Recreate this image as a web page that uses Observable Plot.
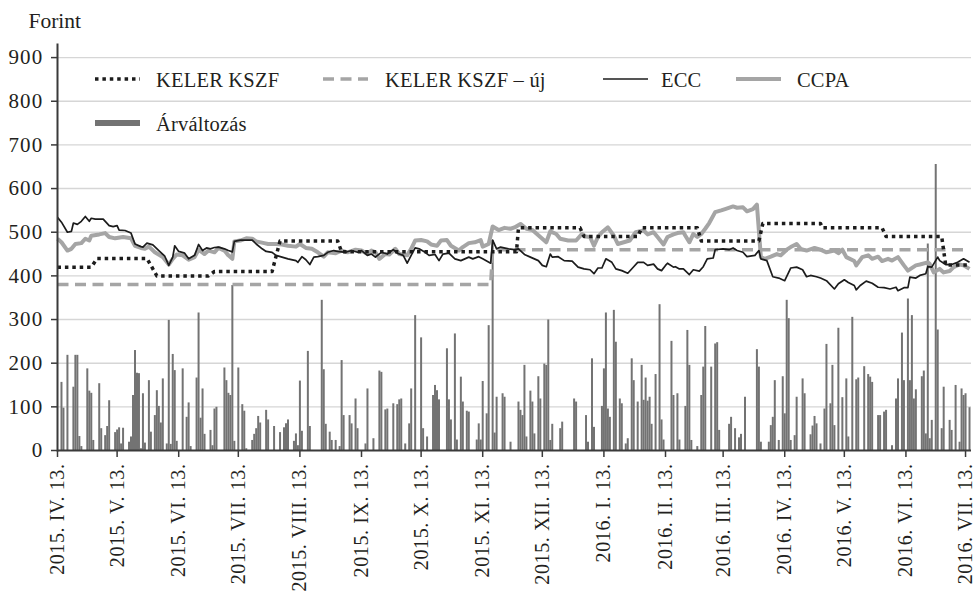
<!DOCTYPE html>
<html>
<head>
<meta charset="utf-8">
<script src="https://cdn.jsdelivr.net/npm/d3@7"></script>
<script src="https://cdn.jsdelivr.net/npm/@observablehq/plot@0.6"></script>
<style>
html, body { margin: 0; padding: 0; background: #fff; font-family: "Liberation Serif", "DejaVu Serif", serif; }
#wrap { position: relative; width: 975px; height: 594px; font-family: "Liberation Serif", "DejaVu Serif", serif; color: #231f20; }
.lgtext { position: absolute; font-family: "Liberation Serif", "DejaVu Serif", serif; font-size: 20.5px; line-height: 20px; white-space: nowrap; letter-spacing: 0.2px; }
.lgsw { position: absolute; }
</style>
</head>
<body>
<div id="wrap"></div>
<script>
// ---------- data (day offsets from startDate, values in Forint) ----------
const startDate = "2015-04-13";
const endDay = 460;
const unitLabel = "Forint";
const seriesNames = ["KELER KSZF", "KELER KSZF – új", "ECC", "CCPA", "Árváltozás"];
const romanMonths = ["I","II","III","IV","V","VI","VII","VIII","IX","X","XI","XII"];
const tickDates = ["2015-04-13","2015-05-13","2015-06-13","2015-07-13","2015-08-13","2015-09-13","2015-10-13","2015-11-13","2015-12-13","2016-01-13","2016-02-13","2016-03-13","2016-04-13","2016-05-13","2016-06-13","2016-07-13"];
const yTicks = [0,100,200,300,400,500,600,700,800,900];

const kelerKszf = [[0,420],[17,420],[20,440],[45,440],[50,400],[76,400],[79,410],[108,410],[112,480],[141,480],[143,455],[231,455],[232,510],[263,510],[265,490],[292,490],[294,510],[322,510],[324,480],[353,480],[355,520],[384,520],[385,510],[415,510],[417,490],[445,490],[447,425],[459,425]];

const kelerKszfUj = [[0,380],[218,380],[219,460],[459,460]];

const ecc = [[0,534],[2,523],[5,500],[7,502],[8,521],[10,518],[12,525],[14,536],[16,525],[17,532],[19,530],[23,530],[26,515],[28,513],[30,515],[31,505],[34,504],[37,498],[39,473],[42,467],[43,466],[45,475],[48,471],[51,458],[54,445],[56,424],[58,443],[59,469],[61,456],[64,452],[66,439],[69,447],[71,472],[73,458],[75,464],
[77,462],[79,465],[81,466],[84,462],[86,458],[88,455],[89,479],[92,482],[98,482],[100,473],[103,462],[105,456],[108,454],[110,447],[113,443],[116,439],[120,435],[121,431],[123,444],[125,437],[127,426],[129,443],[131,444],[134,447],[136,454],[139,458],[141,456],[145,454],[148,458],[151,454],
[153,458],[156,447],[158,450],[160,443],[163,454],[166,450],[169,460],[171,452],[174,447],[176,429],[178,447],[180,464],[182,462],[185,454],[187,447],[190,449],[192,435],[194,450],[197,452],[200,439],[203,435],[207,443],[209,439],[212,444],[214,439],[218,429],[219,482],[221,462],[223,466],[227,462],
[230,460],[232,462],[235,449],[238,443],[242,435],[244,424],[246,421],[248,450],[249,443],[252,444],[255,435],[259,434],[262,420],[265,416],[268,414],[270,405],[272,418],[274,418],[276,439],[279,431],[281,416],[284,412],[287,406],[290,421],[292,431],[295,431],[297,424],[300,427],[302,416],[304,412],[306,424],
[307,429],[310,420],[311,421],[313,416],[315,416],[318,403],[320,414],[323,411],[325,421],[327,439],[330,441],[331,460],[335,462],[338,460],[340,464],[342,458],[345,454],[347,444],[351,447],[353,458],[354,439],[357,435],[360,398],[363,395],[366,389],[369,418],[372,420],[375,414],[377,398],[379,401],[382,398],
[384,395],[387,389],[391,370],[393,382],[396,391],[398,385],[401,378],[402,368],[404,378],[407,388],[410,383],[413,374],[416,373],[419,370],[422,374],[423,366],[426,373],[428,373],[429,397],[432,395],[434,401],[437,405],[438,421],[440,420],[443,443],[444,435],[447,426],[450,426],[453,431],[456,439],[459,431]];

const ccpa = [[0,485],[2,477],[5,458],[7,462],[9,473],[12,475],[14,485],[16,481],[17,492],[21,495],[24,498],[26,489],[29,486],[33,489],[37,486],[39,469],[42,464],[44,462],[46,467],[49,454],[53,443],[56,426],[58,439],[60,449],[63,447],[66,437],[69,443],[71,460],[74,450],
[76,458],[79,454],[81,464],[84,458],[86,447],[88,439],[89,479],[92,481],[95,486],[98,485],[100,479],[104,475],[106,473],[110,473],[113,472],[116,469],[120,467],[122,473],[125,464],[128,462],[131,454],[134,444],[136,454],[140,452],[143,458],[146,454],[150,460],
[153,458],[156,450],[158,458],[160,454],[162,439],[165,450],[167,449],[170,462],[172,450],[176,447],[178,462],[180,481],[183,482],[186,479],[188,472],[191,469],[193,481],[196,482],[198,469],[202,458],[204,466],[207,475],[210,477],[213,482],[214,467],[217,473],[219,513],[222,505],[225,510],[228,508],
[230,511],[233,519],[236,508],[239,505],[243,489],[246,477],[248,502],[251,496],[253,485],[257,481],[261,481],[264,496],[266,490],[268,489],[270,469],[272,489],[274,500],[277,511],[280,492],[282,473],[285,477],[288,481],[291,500],[295,504],[297,495],[300,500],[302,489],[305,472],
[307,489],[310,495],[312,498],[315,500],[316,492],[318,477],[320,496],[322,489],[324,496],[326,508],[328,521],[331,546],[334,550],[336,553],[340,559],[342,556],[345,557],[347,548],[350,553],[352,563],[354,443],[356,439],[359,444],[362,450],[364,447],[367,460],[369,466],[372,473],[374,462],[377,458],[381,464],
[384,460],[387,454],[391,458],[393,452],[395,460],[397,443],[401,434],[402,424],[405,443],[408,447],[410,439],[413,444],[415,434],[418,439],[420,435],[423,443],[426,424],[428,412],[432,424],[434,426],[438,431],[439,427],[441,408],[444,416],[446,408],[449,411],[451,420],[454,426],[456,424],[459,416]];

const arvaltozas = [[2,156],[3,97],[5,218],[8,145],[9,218],[10,218],[11,32],[12,9],[15,187],[16,136],[17,131],[18,23],[21,153],[22,50],[24,34],[25,55],[26,114],[29,41],[30,47],[31,52],[32,15],[33,51],[36,19],[37,31],[38,126],[39,229],[40,177],[41,176],[42,4],[43,130],[44,17],[46,160],[47,42],[49,80],[50,137],[51,101],[52,63],[53,164],[55,15],[56,298],[57,14],[58,220],[59,183],[60,21],[63,187],[65,76],[66,109],[67,9],[70,166],[71,315],[72,74],[73,141],[74,37],[77,46],[78,11],[79,95],[80,99],[84,189],[85,160],[86,131],[87,126],[88,378],[89,21],[91,189],[93,105],[94,90],[95,4],[98,23],[99,37],[100,50],[101,78],[102,63],[105,92],[106,70],[109,55],[112,41],[114,52],[115,61],[116,70],[119,21],[120,38],[121,11],[122,159],[123,44],[126,227],[127,55],[133,344],[134,185],[135,60],[137,42],[138,23],[140,23],[142,9],[143,206],[144,80],[147,80],[148,61],[150,118],[151,50],[155,15],[156,141],[159,27],[162,182],[163,179],[165,93],[166,95],[169,107],[171,105],[172,116],[173,118],[175,15],[177,61],[178,141],[180,309],[183,258],[184,50],[186,31],[189,126],[190,149],[191,137],[192,116],[196,233],[197,116],[198,70],[200,267],[201,24],[203,168],[204,111],[206,90],[207,88],[211,24],[212,61],[213,24],[214,158],[216,84],[217,286],[219,481],[220,40],[221,122],[224,130],[225,122],[228,19],[232,111],[233,92],[234,80],[235,195],[236,31],[238,136],[239,111],[240,38],[242,169],[243,118],[245,198],[246,195],[247,299],[248,23],[249,60],[253,50],[254,65],[260,118],[261,111],[266,80],[267,19],[269,210],[270,53],[274,101],[275,187],[276,315],[277,95],[278,76],[280,321],[281,248],[283,118],[284,107],[286,15],[287,27],[289,210],[290,160],[292,111],[294,195],[295,115],[296,166],[297,113],[298,122],[299,60],[301,174],[303,334],[304,70],[305,24],[309,250],[310,126],[312,130],[313,24],[316,101],[317,275],[318,195],[319,23],[322,9],[324,126],[325,191],[326,284],[329,191],[331,244],[332,247],[333,46],[338,60],[339,76],[341,50],[343,29],[344,37],[346,122],[352,231],[353,191],[354,19],[358,19],[359,57],[360,76],[361,160],[363,23],[365,169],[366,84],[367,344],[368,302],[369,23],[371,34],[372,122],[375,164],[376,130],[379,36],[380,56],[381,78],[382,61],[384,15],[386,95],[387,243],[389,107],[390,195],[391,57],[393,280],[395,121],[397,164],[398,31],[400,305],[402,162],[403,166],[406,192],[408,174],[409,168],[410,156],[413,80],[414,80],[416,88],[417,92],[420,11],[422,118],[423,164],[425,269],[426,160],[428,347],[429,160],[430,309],[431,118],[432,139],[435,169],[436,182],[437,38],[438,473],[439,27],[440,69],[442,655],[443,276],[445,50],[446,145],[449,69],[450,46],[452,149],[454,19],[455,141],[456,126],[457,130],[459,98]];

// ---------- styles ----------
const colDark = "#1c1c1c";
const colLightGray = "#a5a5a5";
const colBar = "#737373";
const styles = {
  "KELER KSZF": {stroke: colDark, strokeWidth: 3.5, strokeDasharray: "3.5,3.9"},
  "KELER KSZF – új": {stroke: colLightGray, strokeWidth: 3.5, strokeDasharray: "11,6.5"},
  "ECC": {stroke: colDark, strokeWidth: 1.7},
  "CCPA": {stroke: colLightGray, strokeWidth: 4},
  "Árváltozás": {stroke: colBar, strokeWidth: 6}
};

// ---------- build ----------
const start = new Date(startDate + "T00:00:00Z");
const toDate = d => d3.utcDay.offset(start, d);
const rows = arr => arr.map(([d, v]) => ({date: toDate(d), value: v}));
const ticks = tickDates.map(s => new Date(s + "T00:00:00Z"));
const fmt = d => `${d.getUTCFullYear()}. ${romanMonths[d.getUTCMonth()]}. ${d.getUTCDate()}.`;

const lineOpts = name => ({x: "date", y: "value", ...styles[name], strokeLinejoin: "round", strokeLinecap: "butt"});

const chart = Plot.plot({
  width: 975,
  height: 594,
  marginLeft: 57,
  marginRight: 4,
  marginTop: 44,
  marginBottom: 144,
  style: {fontFamily: '"Liberation Serif", "DejaVu Serif", serif', fontSize: "20px", color: "#231f20", background: "#fff"},
  x: {type: "utc", domain: [start, toDate(endDay)]},
  y: {domain: [0, 930]},
  marks: [
    Plot.gridY(yTicks.filter(t => t > 0), {stroke: "#d6d6d6", strokeOpacity: 1, strokeWidth: 1.4}),
    Plot.ruleX(rows(arvaltozas), {x: "date", y1: 0, y2: "value", stroke: colBar, strokeWidth: 2}),
    Plot.line(rows(kelerKszfUj), lineOpts("KELER KSZF – új")),
    Plot.line(rows(ccpa), lineOpts("CCPA")),
    Plot.line(rows(kelerKszf), lineOpts("KELER KSZF")),
    Plot.line(rows(ecc), lineOpts("ECC")),
    Plot.axisY({ticks: yTicks, tickSize: 6, tickPadding: 8, label: null, stroke: "#3a3a3a", strokeWidth: 1.5, fill: "#231f20"}),
    Plot.axisX({ticks: ticks, tickFormat: fmt, tickRotate: -90, tickSize: 7, tickPadding: 6, label: null, stroke: "#3a3a3a", strokeWidth: 1.5, fill: "#231f20"}),
    Plot.frame({anchor: "left", stroke: "#3a3a3a", strokeWidth: 2}),
    Plot.ruleY([0], {stroke: "#3a3a3a", strokeWidth: 2}),
    Plot.text([unitLabel], {frameAnchor: "top-left", text: d => d, dx: -29, dy: -17, textAnchor: "start", lineAnchor: "bottom", fill: "#231f20", fontSize: 21.5})
  ]
});

// typographic tuning of tick labels (y labels: slightly larger & wider, as in the source)
d3.select(chart).selectAll("g[aria-label*='y-axis'] text")
  .attr("font-size", 21).style("font-size", "21px").style("letter-spacing", "1.2px");
d3.select(chart).selectAll("g[aria-label*='x-axis'] text")
  .style("font-size", "20px").style("letter-spacing", "0.6px");

const wrap = document.getElementById("wrap");
wrap.appendChild(chart);

// ---------- legend overlay (inside plot area) ----------
const legendItems = [
  {name: seriesNames[0], sx: 95, tx: 156, row: 0},
  {name: seriesNames[1], sx: 323, tx: 385, row: 0},
  {name: seriesNames[2], sx: 603, tx: 661, row: 0},
  {name: seriesNames[3], sx: 736, tx: 797, row: 0},
  {name: seriesNames[4], sx: 95, tx: 156, row: 1}
];
const rowCenter = [79, 123];
const swW = 45;
for (const it of legendItems) {
  const st = styles[it.name];
  const h = 10;
  const svg = d3.create("svg").attr("class", "lgsw").attr("width", swW).attr("height", h)
    .style("left", it.sx + "px").style("top", (rowCenter[it.row] - h / 2) + "px");
  svg.append("line").attr("x1", 0).attr("x2", swW).attr("y1", h / 2).attr("y2", h / 2)
    .attr("stroke", st.stroke).attr("stroke-width", st.strokeWidth)
    .attr("stroke-dasharray", st.strokeDasharray || null);
  wrap.appendChild(svg.node());
  const t = document.createElement("div");
  t.className = "lgtext";
  t.textContent = it.name;
  t.style.left = it.tx + "px";
  t.style.top = (rowCenter[it.row] - 9) + "px";
  wrap.appendChild(t);
}
</script>
</body>
</html>
